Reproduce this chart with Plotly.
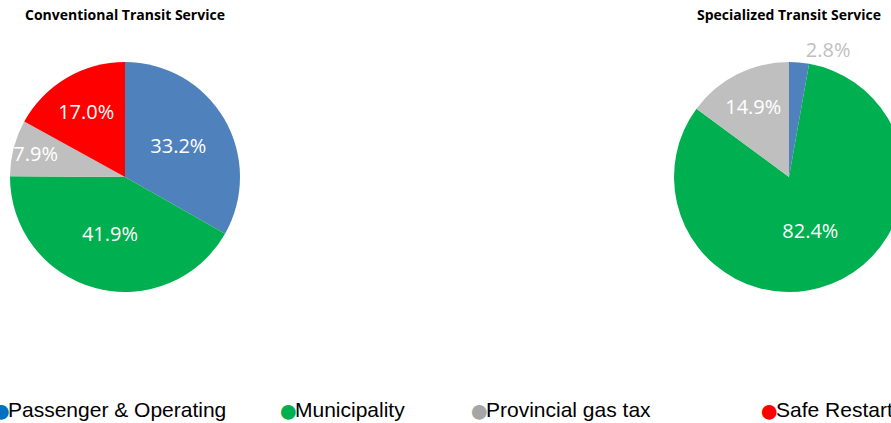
import plotly.graph_objects as go

categories = ["Passenger & Operating", "Municipality", "Provincial gas tax", "Safe Restart"]
conventional_values = [33.2, 41.9, 7.9, 17.0]
specialized_labels = ["Passenger & Operating", "Municipality", "Provincial gas tax"]
specialized_values = [2.8, 82.4, 14.9]
titles = ["Conventional Transit Service", "Specialized Transit Service"]

pie_colors = {"Passenger & Operating": "#4F81BD", "Municipality": "#00B050",
              "Provincial gas tax": "#BFBFBF", "Safe Restart": "#FF0000"}
legend_colors = ["#0070C0", "#00B050", "#A6A6A6", "#FF0000"]
legend_text_x = [9, 296, 487, 777]

W, H = 910, 423
ytop, ybot = 62, 292
dom_y = [1 - ybot / H, 1 - ytop / H]

fig = go.Figure()
fig.add_trace(go.Pie(
    labels=categories, values=conventional_values, sort=False, direction="clockwise", rotation=0,
    marker=dict(colors=[pie_colors[c] for c in categories], line=dict(width=0)),
    texttemplate="%{value:.1f}%", textposition="inside", insidetextorientation="horizontal",
    insidetextfont=dict(color="white", size=20, family="Open Sans"),
    domain=dict(x=[10 / W, 240 / W], y=dom_y), showlegend=False, hoverinfo="label+value",
))
fig.add_trace(go.Pie(
    labels=specialized_labels, values=specialized_values, sort=False, direction="clockwise", rotation=0,
    marker=dict(colors=[pie_colors[c] for c in specialized_labels], line=dict(width=0)),
    texttemplate="%{value:.1f}%", textposition=["outside", "inside", "inside"],
    insidetextorientation="horizontal",
    insidetextfont=dict(color="white", size=20, family="Open Sans"),
    outsidetextfont=dict(color="#BFBFBF", size=20, family="Open Sans"),
    domain=dict(x=[674 / W, 904 / W], y=dom_y), showlegend=False, hoverinfo="label+value",
))

# legend (marker glyph + label) as annotations along the bottom
ly = 1 - 409.5 / H
for name, col, tx in zip(categories, legend_colors, legend_text_x):
    fig.add_annotation(text="●", x=(tx - 8) / W, y=ly, xref="paper", yref="paper",
                       showarrow=False, xanchor="center", yanchor="middle",
                       font=dict(family="Liberation Sans, Arial", size=34, color=col))
    fig.add_annotation(text=name, x=(tx - 3) / W, y=ly, xref="paper", yref="paper",
                       showarrow=False, xanchor="left", yanchor="middle",
                       font=dict(family="Liberation Sans, Arial", size=21, color="black"))

for t, cx in zip(titles, [125, 789]):
    fig.add_annotation(text="<b>" + t + "</b>", x=cx / W, y=1 - 14 / H, xref="paper", yref="paper",
                       showarrow=False, xanchor="center", yanchor="middle",
                       font=dict(family="Open Sans", size=14, color="black"))

fig.update_layout(
    width=W, height=H, margin=dict(l=0, r=0, t=0, b=0),
    paper_bgcolor="white", plot_bgcolor="white",
    uniformtext=dict(minsize=20, mode="show"),
    showlegend=False,
)

fig.write_html("out.html", post_script="document.body.style.margin='0';document.body.style.overflow='hidden';document.documentElement.style.overflow='hidden';")
